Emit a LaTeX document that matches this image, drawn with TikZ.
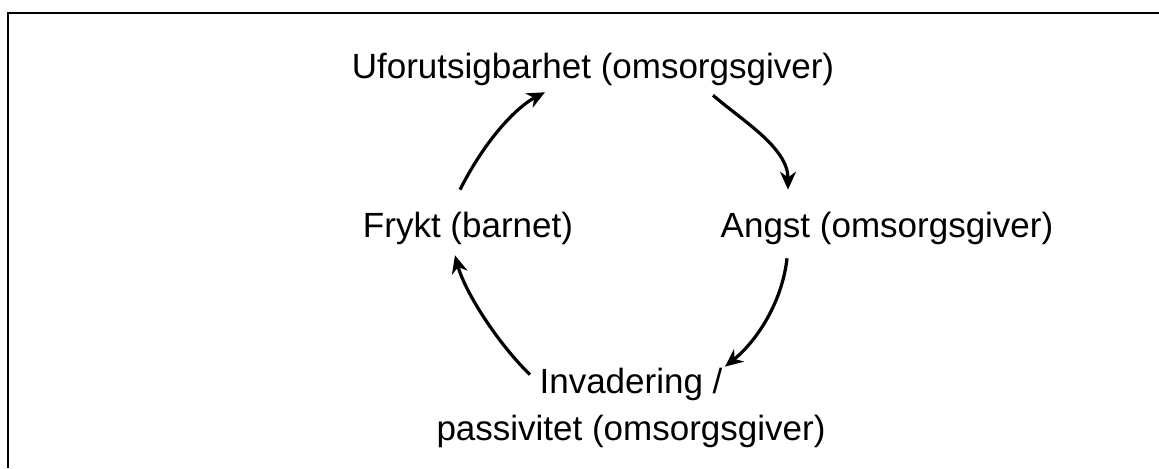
\documentclass[tikz,border=0pt]{standalone}
\usepackage{fontspec}
\setmainfont{Liberation Sans}
\usetikzlibrary{calc,arrows.meta}
\tikzset{
  lab/.style={inner sep=0pt, outer sep=0pt, font=\fontsize{17.5pt}{23.5pt}\selectfont, anchor=base},
  arr/.style={line width=1.6pt, -{Stealth[length=9pt,width=8pt]}},
  frame/.style={line width=1pt}
}
\begin{document}
\begin{tikzpicture}[x=0.5pt,y=-0.5pt]
\useasboundingbox (0,0) rectangle (1159,468);
\draw[frame] (1159,13) -- (7.5,13) -- (7.5,468);
\node[lab] (uf) at (593,78) {Uforutsigbarhet (omsorgsgiver)};
\node[lab] (frykt) at (468,237) {Frykt (barnet)};
\node[lab] (angst) at (887,237) {Angst (omsorgsgiver)};
\node[lab, align=center] (inv) at (631,440) {Invadering /\\passivitet (omsorgsgiver)};
\draw[arr] ($(frykt.north)+(-8,-22)$) .. controls +(27,-53) and +(-27,14) .. ($(uf.south)+(-48,7)$);
\draw[arr] ($(uf.south)+(120,10)$) .. controls +(30,26) and +(0,-42) .. ($(angst.north)+(-99,-22)$);
\draw[arr] ($(angst.south)+(-100,14)$) .. controls +(-5,45) and +(31,-25) .. ($(inv.north)+(94,-1)$);
\draw[arr] ($(inv.north)+(-101,7)$) .. controls +(-32,-31) and +(10,37) .. ($(frykt.south)+(-13,11)$);
\end{tikzpicture}
\end{document}
